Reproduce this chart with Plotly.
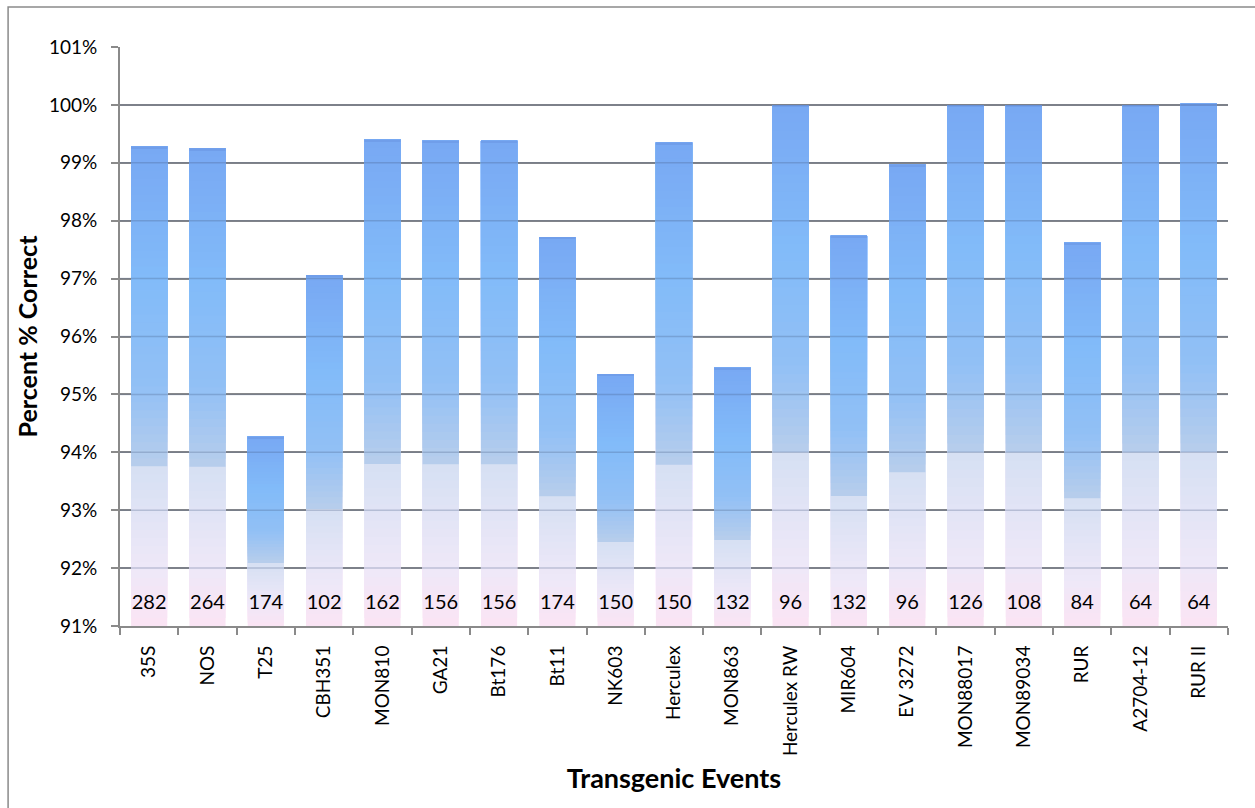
import plotly.graph_objects as go

events = ["35S", "NOS", "T25", "CBH351", "MON810", "GA21", "Bt176", "Bt11", "NK603",
          "Herculex", "MON863", "Herculex RW", "MIR604", "EV 3272", "MON88017",
          "MON89034", "RUR", "A2704-12", "RUR II"]
percent_correct = [99.28, 99.25, 94.27, 97.06, 99.40, 99.38, 99.38, 97.72, 95.35,
                   99.35, 95.46, 100.0, 97.74, 98.97, 100.0, 100.0, 97.62, 100.0, 100.02]
sample_counts = [282, 264, 174, 102, 162, 156, 156, 174, 150, 150, 132, 96, 132, 96,
                 126, 108, 84, 64, 64]
y_ticks = [91, 92, 93, 94, 95, 96, 97, 98, 99, 100, 101]
y_tick_labels = [f"{v}%" for v in y_ticks]

BASE = 91
LABEL_Y = 91.38
FONT = "Lato, Open Sans, sans-serif"

# gradient stops (relative position from bottom, rgb)
stops = [
    (0.00, (251, 228, 244)),
    (0.12, (238, 232, 248)),
    (0.33, (214, 224, 243)),
    (0.34, (182, 205, 236)),
    (0.50, (146, 192, 245)),
    (0.72, (130, 187, 249)),
    (1.00, (120, 168, 243)),
]


def grad_color(t):
    for (t0, c0), (t1, c1) in zip(stops[:-1], stops[1:]):
        if t0 <= t <= t1:
            f = (t - t0) / (t1 - t0) if t1 > t0 else 0
            c = [round(a + (b - a) * f) for a, b in zip(c0, c1)]
            return f"rgb({c[0]},{c[1]},{c[2]})"
    c = stops[-1][1]
    return f"rgb({c[0]},{c[1]},{c[2]})"


fig = go.Figure()
N = 60
heights = [v - BASE for v in percent_correct]
for k in range(N):
    t = (k + 0.5) / N
    # each layer runs from its own start up to the bar top, drawn over the previous one
    fig.add_trace(go.Bar(
        x=events,
        y=[h * (N - k) / N for h in heights],
        base=[BASE + h * k / N for h in heights],
        marker=dict(color=grad_color(t), line=dict(width=0)),
        width=0.62,
        showlegend=False,
        hoverinfo="skip",
    ))

# thin darker top edge
fig.add_trace(go.Bar(
    x=events,
    y=[0.03] * len(events),
    base=[v - 0.03 for v in percent_correct],
    marker=dict(color="rgb(112,158,234)", line=dict(width=0)),
    width=0.62,
    showlegend=False,
    hoverinfo="skip",
))

fig.add_trace(go.Scatter(
    x=events,
    y=[LABEL_Y] * len(events),
    mode="text",
    text=[str(c) for c in sample_counts],
    textfont=dict(family=FONT, size=20, color="black"),
    showlegend=False,
    hoverinfo="skip",
))

# faint gridlines showing through the semi-transparent-looking bars
grid_overlay = [
    dict(type="line", xref="paper", yref="y", x0=0, x1=1, y0=v, y1=v,
         line=dict(color="rgba(70,90,130,0.28)", width=1.5), layer="above")
    for v in y_ticks[1:-1]
]

frame = dict(type="rect", xref="paper", yref="paper",
             x0=-0.101, x1=1.2, y0=-0.5, y1=1.069,
             line=dict(color="#8a8a8a", width=1.5), fillcolor="rgba(0,0,0,0)",
             layer="below")

fig.update_layout(
    width=1255, height=808,
    margin=dict(l=120, r=27, t=47, b=182),
    paper_bgcolor="white",
    plot_bgcolor="white",
    barmode="overlay",
    font=dict(family=FONT, color="black"),
    xaxis=dict(
        type="category",
        tickangle=-90,
        tickfont=dict(size=19),
        showline=True, linecolor="#8a8a8a", linewidth=2,
        ticks="outside", ticklen=7, tickcolor="#8a8a8a", tickwidth=2,
        tickson="boundaries",
        ticklabelstandoff=10,
        showgrid=False,
        range=[-0.5, len(events) - 0.5],
        title=dict(text="<b>Transgenic Events</b>", font=dict(size=27), standoff=14),
    ),
    yaxis=dict(
        range=[BASE, 101],
        tickvals=y_ticks,
        ticktext=y_tick_labels,
        tickfont=dict(size=19),
        showline=True, linecolor="#8a8a8a", linewidth=2,
        ticks="outside", ticklen=7, tickcolor="#8a8a8a", tickwidth=2,
        ticklabelstandoff=10,
        showgrid=True, gridcolor="#8c8c8c", gridwidth=1.5,
        zeroline=False,
        title=dict(text="<b>Percent % Correct</b>", font=dict(size=25), standoff=4),
    ),
    shapes=[frame] + grid_overlay,
)

fig.write_html("out.html")
